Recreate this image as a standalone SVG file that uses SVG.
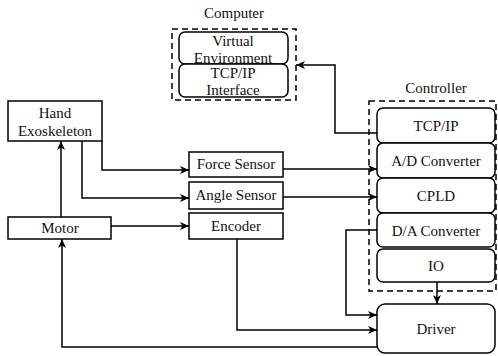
<svg xmlns="http://www.w3.org/2000/svg" width="498" height="356" viewBox="0 0 498 356">
<style>
text{font-family:'Liberation Serif','Tinos','DejaVu Serif',serif;font-size:15px;fill:#111;text-anchor:middle}
.box{fill:#fff;stroke:#000;stroke-width:1.5}
.dash{fill:none;stroke:#000;stroke-width:1.5;stroke-dasharray:6,4}
.ln{fill:none;stroke:#000;stroke-width:1.5;marker-end:url(#ah)}
</style>
<defs>
<marker id="ah" markerWidth="10" markerHeight="8" refX="9" refY="4" orient="auto" markerUnits="userSpaceOnUse">
<path d="M0,0 L9,4 L0,8 L2.5,4 Z" fill="#000"/>
</marker>
</defs>
<rect width="498" height="356" fill="#fff"/>
<g id="computer">
<text x="234" y="18">Computer</text>
<rect class="dash" x="172" y="29" width="124" height="71"/>
</g>
<g id="virtual-environment">
<rect class="box" x="179" y="32" width="109" height="32" rx="6"/>
<text x="233" y="46">Virtual</text>
<text x="233" y="63">Environment</text>
</g>
<g id="tcpip-interface">
<rect class="box" x="179" y="64" width="109" height="33" rx="6"/>
<text x="233" y="78">TCP/IP</text>
<text x="233" y="95">Interface</text>
</g>
<g id="controller">
<text x="436" y="93">Controller</text>
<rect class="dash" x="369" y="101" width="127" height="190"/>
</g>
<g id="tcpip"><rect class="box" x="377" y="108" width="118" height="35" rx="6"/><text x="436" y="131">TCP/IP</text></g>
<g id="ad"><rect class="box" x="377" y="143" width="118" height="35" rx="6"/><text x="436" y="166">A/D Converter</text></g>
<g id="cpld"><rect class="box" x="377" y="178" width="118" height="35" rx="6"/><text x="436" y="201">CPLD</text></g>
<g id="da"><rect class="box" x="377" y="213" width="118" height="34" rx="6"/><text x="436" y="236">D/A Converter</text></g>
<g id="io"><rect class="box" x="377" y="249" width="118" height="33" rx="6"/><text x="436" y="271">IO</text></g>
<g id="driver"><rect class="box" x="377" y="304" width="118" height="49" rx="8"/><text x="436" y="334">Driver</text></g>
<g id="hand"><rect class="box" x="8" y="101" width="94" height="40"/><text x="55" y="118">Hand</text><text x="55" y="136">Exoskeleton</text></g>
<g id="motor"><rect class="box" x="8" y="217" width="103" height="22"/><text x="60" y="233">Motor</text></g>
<g id="force"><rect class="box" x="189" y="152" width="94" height="25"/><text x="236" y="169">Force Sensor</text></g>
<g id="angle"><rect class="box" x="189" y="182" width="94" height="27"/><text x="236" y="200">Angle Sensor</text></g>
<g id="encoder"><rect class="box" x="189" y="213" width="94" height="26"/><text x="236" y="231">Encoder</text></g>
<g id="connectors">
<path class="ln" d="M377,133 H335 V65 H296"/>
<path class="ln" d="M283,169 H377"/>
<path class="ln" d="M283,197 H377"/>
<path class="ln" d="M102,141 V170 H189"/>
<path class="ln" d="M82,141 V198 H189"/>
<path class="ln" d="M111,226 H189"/>
<path class="ln" d="M61,217 V141"/>
<path class="ln" d="M237,239 V330 H377"/>
<path class="ln" d="M377,230 H346 V315 H377"/>
<path class="ln" d="M377,347 H62 V239"/>
<path class="ln" d="M437,282 V304"/>
</g>
</svg>
